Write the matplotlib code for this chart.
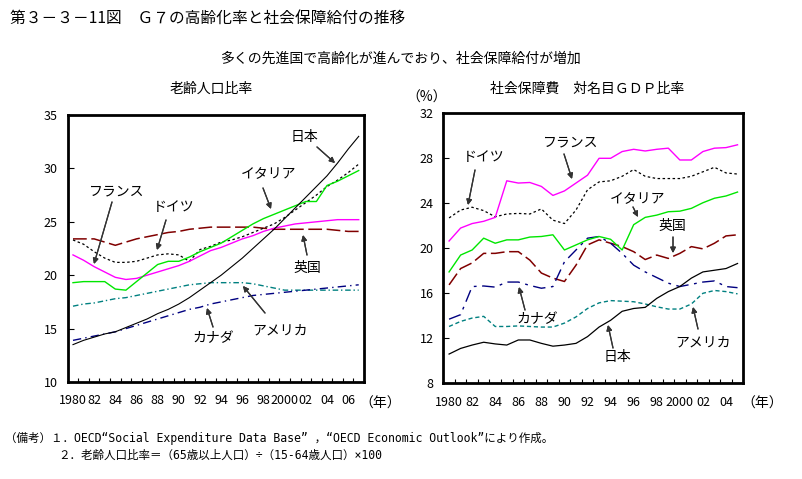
import matplotlib
matplotlib.use("Agg")
import matplotlib.pyplot as plt
import numpy as np

plt.rcParams['font.family'] = ['Noto Sans CJK JP', 'DejaVu Sans']

# 老齢人口比率 (1980-2007)
years_l = np.arange(1980, 2008)
japan_l = [13.5, 13.9, 14.2, 14.5, 14.7, 15.1, 15.5, 15.9, 16.4, 16.8, 17.3, 17.9, 18.6, 19.3,
           20.0, 20.8, 21.6, 22.5, 23.4, 24.3, 25.3, 26.3, 27.3, 28.3, 29.3, 30.5, 31.8, 33.0]
france_l = [21.9, 21.4, 20.8, 20.3, 19.8, 19.6, 19.7, 20.0, 20.3, 20.6, 20.9, 21.3, 21.8, 22.3,
            22.6, 23.0, 23.4, 23.7, 24.1, 24.4, 24.6, 24.8, 24.9, 25.0, 25.1, 25.2, 25.2, 25.2]
germany_l = [23.3, 22.9, 22.2, 21.6, 21.2, 21.2, 21.3, 21.6, 21.9, 22.0, 21.9, 21.3, 22.4, 22.7,
             23.1, 23.3, 23.6, 24.0, 24.4, 24.8, 25.4, 26.1, 26.8, 27.5, 28.3, 28.9, 29.6, 30.4]
italy_l = [19.3, 19.4, 19.4, 19.4, 18.7, 18.6, 19.4, 20.2, 21.0, 21.3, 21.3, 21.7, 22.2, 22.6,
           23.0, 23.6, 24.2, 24.8, 25.3, 25.7, 26.1, 26.5, 26.9, 26.9, 28.4, 28.8, 29.3, 29.8]
uk_l = [23.4, 23.4, 23.4, 23.1, 22.8, 23.1, 23.4, 23.6, 23.8, 24.0, 24.1, 24.3, 24.4, 24.5,
        24.5, 24.5, 24.5, 24.5, 24.4, 24.3, 24.3, 24.3, 24.3, 24.3, 24.3, 24.2, 24.1, 24.1]
usa_l = [17.1, 17.3, 17.4, 17.6, 17.8, 17.9, 18.1, 18.3, 18.5, 18.7, 18.9, 19.1, 19.2, 19.3,
         19.3, 19.3, 19.3, 19.2, 19.0, 18.8, 18.6, 18.6, 18.6, 18.6, 18.6, 18.6, 18.6, 18.6]
canada_l = [13.9, 14.1, 14.3, 14.5, 14.7, 15.0, 15.3, 15.6, 15.9, 16.2, 16.5, 16.8, 17.0, 17.3,
            17.5, 17.7, 17.9, 18.1, 18.2, 18.3, 18.4, 18.5, 18.6, 18.7, 18.8, 18.9, 19.0, 19.1]

# 社会保障費 対名目GDP比率 (1980-2005)
years_r = np.arange(1980, 2006)
france_r = [20.65, 21.8, 22.2, 22.4, 22.75, 26.0, 25.8, 25.85, 25.5, 24.7, 25.1, 25.8, 26.5,
            28.0, 28.0, 28.6, 28.8, 28.65, 28.8, 28.9, 27.85, 27.85, 28.6, 28.9, 28.95, 29.2]
germany_r = [22.7, 23.4, 23.65, 23.35, 22.8, 23.05, 23.1, 23.05, 23.5, 22.5, 22.2, 23.4, 25.2,
             25.9, 26.0, 26.4, 27.0, 26.4, 26.2, 26.2, 26.2, 26.4, 26.8, 27.2, 26.7, 26.6]
italy_r = [17.9, 19.4, 19.85, 20.9, 20.45, 20.75, 20.75, 21.0, 21.05, 21.2, 19.85, 20.3, 20.75,
           21.05, 20.8, 19.85, 22.1, 22.75, 22.95, 23.25, 23.3, 23.55, 24.05, 24.45, 24.65, 25.0]
uk_r = [16.75, 18.2, 18.7, 19.55, 19.55, 19.7, 19.7, 18.95, 17.8, 17.35, 17.05, 18.5, 20.3,
        20.75, 20.45, 20.15, 19.7, 19.0, 19.4, 19.1, 19.55, 20.15, 19.95, 20.45, 21.1, 21.2]
canada_r = [13.7, 14.1, 16.6, 16.65, 16.55, 17.0, 17.0, 16.7, 16.45, 16.6, 18.8, 19.85, 20.9,
            21.05, 20.45, 19.55, 18.5, 17.9, 17.4, 16.9, 16.6, 16.8, 17.0, 17.1, 16.6, 16.5]
usa_r = [13.05, 13.5, 13.8, 13.95, 13.05, 13.05, 13.1, 13.05, 13.0, 13.0, 13.35, 13.9, 14.65,
         15.15, 15.35, 15.3, 15.25, 15.05, 14.8, 14.6, 14.6, 15.05, 16.0, 16.25, 16.15, 15.95]
japan_r = [10.6, 11.1, 11.4, 11.65, 11.5, 11.4, 11.85, 11.85, 11.55, 11.3, 11.4, 11.55, 12.15,
           13.0, 13.6, 14.4, 14.65, 14.75, 15.55, 16.15, 16.6, 17.35, 17.9, 18.05, 18.2, 18.65]

labels_l = ['1980', '82', '84', '86', '88', '90', '92', '94', '96', '98', '2000', '02', '04', '06']
labels_r = ['1980', '82', '84', '86', '88', '90', '92', '94', '96', '98', '2000', '02', '04']

W, H = 803, 479
mono = ['DejaVu Sans Mono', 'Noto Sans CJK JP']


def px(x, y):
    # pixel position in the picture -> figure fraction
    return (x / W, 1 - y / H)


fig = plt.figure(figsize=(W / 100, H / 100), dpi=100)

ax1 = fig.add_axes([67.7 / W, 1 - 382 / H, 296.3 / W, 267 / H])
ax2 = fig.add_axes([443.3 / W, 1 - 383.3 / H, 300 / W, 270 / H])

ax1.plot(years_l, uk_l, color='#800000', lw=1.1, ls=(0, (9, 3)))
ax1.plot(years_l, usa_l, color='#008080', lw=1.0, ls=(0, (4, 2, 1, 2)))
ax1.plot(years_l, canada_l, color='#000080', lw=1.0, ls=(0, (6, 3, 1, 3)))
ax1.plot(years_l, germany_l, color='black', lw=0.9, ls=(0, (2, 2)))
ax1.plot(years_l, france_l, color='#FF00FF', lw=1.0)
ax1.plot(years_l, italy_l, color='#00E600', lw=1.0)
ax1.plot(years_l, japan_l, color='black', lw=0.8)

ax2.plot(years_r, uk_r, color='#800000', lw=1.1, ls=(0, (9, 3)))
ax2.plot(years_r, usa_r, color='#008080', lw=1.0, ls=(0, (3, 2)))
ax2.plot(years_r, canada_r, color='#000080', lw=1.0, ls=(0, (9, 4, 2, 4)))
ax2.plot(years_r, germany_r, color='black', lw=0.9, ls=(0, (2, 2)))
ax2.plot(years_r, france_r, color='#FF00FF', lw=1.0)
ax2.plot(years_r, italy_r, color='#00E600', lw=1.0)
ax2.plot(years_r, japan_r, color='black', lw=0.9)

for ax, yrs, labs, ylim, ystep in [(ax1, years_l, labels_l, (10, 35), 5),
                                   (ax2, years_r, labels_r, (8, 32), 4)]:
    ax.set_xlim(yrs[0] - 0.5, yrs[-1] + 0.5)
    ax.set_ylim(*ylim)
    ax.set_yticks(np.arange(ylim[0], ylim[1] + 1, ystep))
    ax.set_xticks(yrs[::2])
    ax.set_xticklabels(labs)
    ax.set_xticks(np.arange(yrs[0] + 0.5, yrs[-1], 1), minor=True)
    ax.tick_params(axis='x', which='major', length=0, pad=9, labelsize=9)
    ax.tick_params(axis='x', which='minor', direction='in', length=3, width=0.8)
    ax.tick_params(axis='y', direction='in', length=4, width=0.8, pad=7, labelsize=9)
    for s in ax.spines.values():
        s.set_linewidth(2)

fs = 10
fig.text(*px(10, 18), '第３－３－11図　Ｇ７の高齢化率と社会保障給付の推移', fontsize=11.3, va='center')
fig.text(*px(400, 59), '多くの先進国で高齢化が進んでおり、社会保障給付が増加', fontsize=10, ha='center', va='center')
fig.text(*px(211, 89), '老齢人口比率', fontsize=10, ha='center', va='center')
fig.text(*px(587, 89), '社会保障費　対名目ＧＤＰ比率', fontsize=10, ha='center', va='center')
fig.text(*px(427, 98), '（%）', fontsize=fs, ha='center', va='center')
fig.text(*px(380, 404), '（年）', fontsize=fs, ha='center', va='center')
fig.text(*px(762, 404), '（年）', fontsize=fs, ha='center', va='center')
fig.text(*px(5, 438), '（備考）１．OECD“Social Expenditure Data Base” ，“OECD Economic Outlook”により作成。',
         fontsize=8.3, va='center', family=mono)
fig.text(*px(58, 455), '２．老齢人口比率＝（65歳以上人口）÷（15-64歳人口）×100', fontsize=8.3, va='center',
         family=mono)

# labels with arrows: (text, text center, arrow start, arrow end)
notes = [
    ('日本', (304, 137), (317, 147), (335, 163)),
    ('イタリア', (269, 174), (263, 188), (271, 209)),
    ('フランス', (117, 191), (112, 202), (94, 264)),
    ('ドイツ', (174, 207), (166, 220), (157, 250)),
    ('英国', (307, 268), (307, 255), (303, 235)),
    ('アメリカ', (280, 331), (265, 313), (243, 286)),
    ('カナダ', (213, 338), (213, 327), (207, 308)),
    ('ドイツ', (484, 157), (475, 170), (468, 205)),
    ('フランス', (571, 142), (564, 154), (572, 179)),
    ('イタリア', (638, 199), (633, 207), (638, 217)),
    ('英国', (672, 226), (673, 237), (673, 253)),
    ('カナダ', (537, 319), (525, 310), (519, 287)),
    ('日本', (617, 357), (613, 348), (608, 325)),
    ('アメリカ', (703, 343), (698, 329), (693, 307)),
]
for txt, tpos, a0, a1 in notes:
    fig.text(*px(*tpos), txt, fontsize=fs, ha='center', va='center')
    fig.add_artist(plt.annotate('', xy=px(*a1), xytext=px(*a0), xycoords='figure fraction',
                                textcoords='figure fraction',
                                arrowprops=dict(arrowstyle='-|>', color='#333333', lw=0.9,
                                                mutation_scale=8, shrinkA=0, shrinkB=0)))

fig.savefig('out.png', dpi=100)
